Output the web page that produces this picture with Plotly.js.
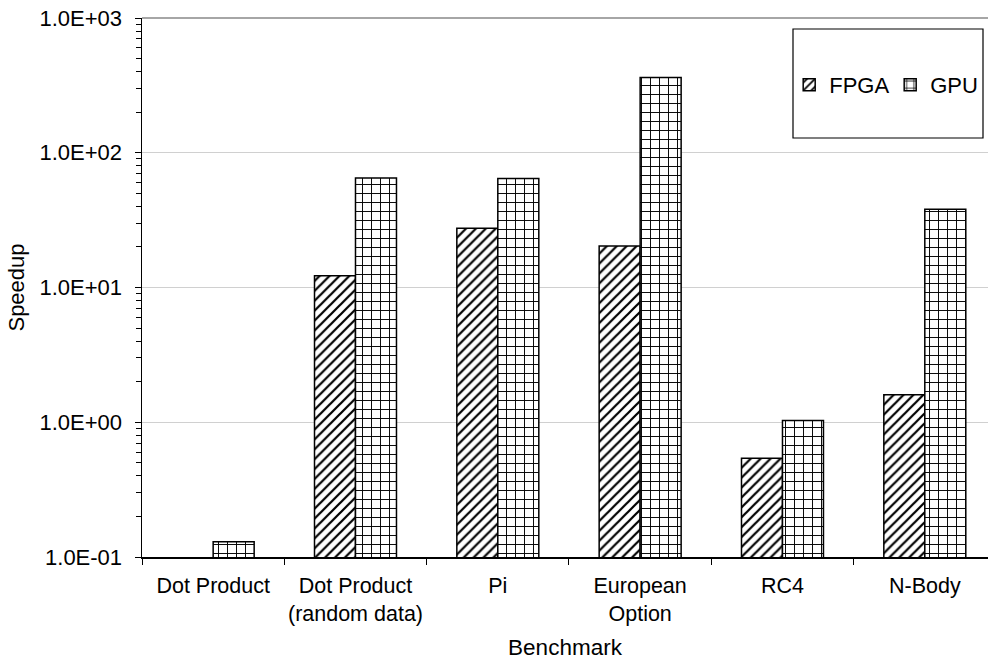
<!DOCTYPE html>
<html>
<head>
<meta charset="utf-8">
<script src="https://cdn.plot.ly/plotly-3.0.1.min.js"></script>
<style>html,body{margin:0;padding:0;background:#fff;}#chart{width:988px;height:663px;}</style>
</head>
<body>
<div id="chart"></div>
<script>
const categories = ["Dot Product", "Dot Product<br>(random data)", "Pi", "European<br>Option", "RC4", "N-Body"];
const fpgaValues = [null, 12.2, 27.5, 20.3, 0.54, 1.6];
const gpuValues = [0.13, 65, 64.5, 362, 1.03, 38];
const yTickVals = [0.1, 1, 10, 100, 1000];
const yTickText = ["1.0E-01", "1.0E+00", "1.0E+01", "1.0E+02", "1.0E+03"];

const FONT = "Liberation Sans, Arial, sans-serif";

// minor tick positions (2..9 of each decade)
const minorVals = [];
[0.1, 1, 10, 100].forEach(d => { for (let k = 2; k <= 9; k++) minorVals.push(d * k); });

const traces = [
  {
    type: "bar", name: "FPGA", x: categories, y: fpgaValues,
    marker: {color: "#ffffff", line: {color: "#000", width: 1.5},
      pattern: {shape: "/", size: 7, solidity: 0.32, fgcolor: "#000", bgcolor: "#fff", fillmode: "replace"}}
  },
  {
    type: "bar", name: "GPU", x: categories, y: gpuValues,
    marker: {color: "#ffffff", line: {color: "#000", width: 1.5},
      pattern: {shape: "+", size: 9, solidity: 0.2, fgcolor: "#000", bgcolor: "#fff", fillmode: "replace"}}
  }
];

const layout = {
  width: 988, height: 663,
  margin: {l: 142, r: 0, t: 18, b: 106, autoexpand: false},
  paper_bgcolor: "#fff", plot_bgcolor: "#fff",
  font: {family: FONT, color: "#000", size: 21},
  barmode: "group", bargap: 0.424, bargroupgap: 0,
  showlegend: true,
  legend: {orientation: "h", x: 0.765, xanchor: "left", y: 0.876, yanchor: "middle",
    bgcolor: "rgba(0,0,0,0)", borderwidth: 0, font: {size: 22, family: FONT}, itemwidth: 30,
    entrywidth: 56, entrywidthmode: "pixels",
    traceorder: "normal"},
  xaxis: {
    type: "category", range: [-0.5, 5.444], automargin: false,
    showline: true, linecolor: "#000", linewidth: 1.5,
    ticks: "outside", tickson: "boundaries", ticklen: 6, tickcolor: "#000",
    tickangle: 0,
    tickfont: {size: 21.5}, ticklabelstandoff: 9, showgrid: false, zeroline: false,
    title: {text: "Benchmark", font: {size: 22.5}, standoff: 14}
  },
  yaxis: {
    type: "log", range: [-1, 3], automargin: false,
    tickvals: yTickVals, ticktext: yTickText,
    showline: true, linecolor: "#000", linewidth: 1.5,
    ticks: "outside", ticklen: 6, tickcolor: "#000",
    tickfont: {size: 22}, ticklabelstandoff: 8,
    showgrid: true, gridcolor: "#d0d0d0", gridwidth: 1,
    minor: {tickmode: "array", tickvals: minorVals, ticks: "outside", ticklen: 5, tickcolor: "#000", showgrid: false},
    zeroline: false,
    title: {text: "Speedup", font: {size: 22}, standoff: 9}
  },
  shapes: [
    {type: "line", xref: "paper", yref: "paper", x0: 0, x1: 1, y0: 1, y1: 1,
      line: {color: "#888", width: 1.5}},
    {type: "rect", xref: "paper", yref: "paper",
      x0: (793 - 142) / 846, x1: (983 - 142) / 846,
      y0: (557 - 138) / 539, y1: (557 - 29) / 539,
      line: {color: "#000", width: 1.2}, fillcolor: "rgba(0,0,0,0)"}
  ]
};

Plotly.newPlot("chart", traces, layout, {displayModeBar: false, staticPlot: true});
</script>
</body>
</html>
